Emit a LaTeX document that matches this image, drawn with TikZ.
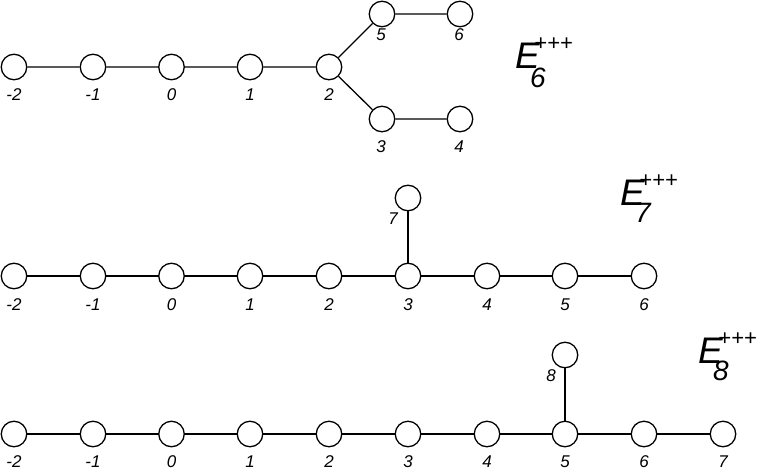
\documentclass[tikz,border=0pt]{standalone}
\usepackage{fontspec}
\setmainfont{Liberation Sans}
\begin{document}
\begin{tikzpicture}[x=1pt,y=-1pt,
  dot/.style={circle,draw,line width=1.3pt,minimum size=25.5pt,inner sep=0pt},
  lab/.style={font=\fontsize{17}{17}\selectfont\itshape,inner sep=0pt},
  edge/.style={line width=1.3pt},
  bigE/.style={font=\fontsize{37}{37}\selectfont\itshape,inner sep=0pt,anchor=base west},
  subE/.style={font=\fontsize{28}{28}\selectfont\itshape,inner sep=0pt,anchor=base west},
  supE/.style={font=\fontsize{22}{22}\selectfont\itshape,inner sep=0pt,anchor=west}]
\useasboundingbox (0,0) rectangle (763,474);
% ---------- E6 ----------
\foreach \n/\x in {m2/14,m1/93,z/171.5,p1/250,p2/329}{\node[dot] (a\n) at (\x,67) {};}
\node[dot] (a5) at (382,14) {};
\node[dot] (a6) at (460,14) {};
\node[dot] (a3) at (382,119) {};
\node[dot] (a4) at (460,119) {};
\draw[edge] (am2)--(am1) (am1)--(az) (az)--(ap1) (ap1)--(ap2)
  (ap2)--(a5) (a5)--(a6) (ap2)--(a3) (a3)--(a4);
\node[lab] (la1) at (14,95) {-2};
\node[lab] (la2) at (93,95) {-1};
\node[lab] (la3) at (171.5,95) {0};
\node[lab] (la4) at (250,95) {1};
\node[lab] (la5) at (329,95) {2};
\node[lab] (la6) at (381,35) {5};
\node[lab] (la7) at (459,35) {6};
\node[lab] (la8) at (381,147) {3};
\node[lab] (la9) at (459,147) {4};
\node[bigE] (e6) at (515,68) {E};
\node[subE] (e6s) at (530,87) {6};
\node[supE] (e6p) at (534,44) {+++};
% ---------- E7 ----------
\foreach \n/\x in {m2/14,m1/93,z/171.5,p1/250,p2/329,p3/408,p4/487,p5/565,p6/644}{\node[dot] (b\n) at (\x,276) {};}
\node[dot] (b7) at (408,198) {};
\draw[edge] (bm2)--(bm1) (bm1)--(bz) (bz)--(bp1) (bp1)--(bp2) (bp2)--(bp3)
  (bp3)--(bp4) (bp4)--(bp5) (bp5)--(bp6) (bp3)--(b7);
\node[lab] (lb1) at (14,305) {-2};
\node[lab] (lb2) at (93,305) {-1};
\node[lab] (lb3) at (171.5,305) {0};
\node[lab] (lb4) at (250,305) {1};
\node[lab] (lb5) at (329,305) {2};
\node[lab] (lb6) at (408,305) {3};
\node[lab] (lb7) at (487,305) {4};
\node[lab] (lb8) at (565,305) {5};
\node[lab] (lb9) at (644,305) {6};
\node[lab] (lb10) at (393,219) {7};
\node[bigE] (e7) at (620,205) {E};
\node[subE] (e7s) at (635,222) {7};
\node[supE] (e7p) at (639,181) {+++};
% ---------- E8 ----------
\foreach \n/\x in {m2/14,m1/93,z/171.5,p1/250,p2/329,p3/408,p4/487,p5/565,p6/644,p7/723}{\node[dot] (c\n) at (\x,434) {};}
\node[dot] (c8) at (565,355) {};
\draw[edge] (cm2)--(cm1) (cm1)--(cz) (cz)--(cp1) (cp1)--(cp2) (cp2)--(cp3)
  (cp3)--(cp4) (cp4)--(cp5) (cp5)--(cp6) (cp6)--(cp7) (cp5)--(c8);
\node[lab] (lc1) at (14,462) {-2};
\node[lab] (lc2) at (93,462) {-1};
\node[lab] (lc3) at (171.5,462) {0};
\node[lab] (lc4) at (250,462) {1};
\node[lab] (lc5) at (329,462) {2};
\node[lab] (lc6) at (408,462) {3};
\node[lab] (lc7) at (487,462) {4};
\node[lab] (lc8) at (565,462) {5};
\node[lab] (lc9) at (644,462) {6};
\node[lab] (lc10) at (723,462) {7};
\node[lab] (lc11) at (551,376) {8};
\node[bigE] (e8) at (698,363) {E};
\node[subE] (e8s) at (713,380) {8};
\node[supE] (e8p) at (718,339) {+++};
\end{tikzpicture}
\end{document}
